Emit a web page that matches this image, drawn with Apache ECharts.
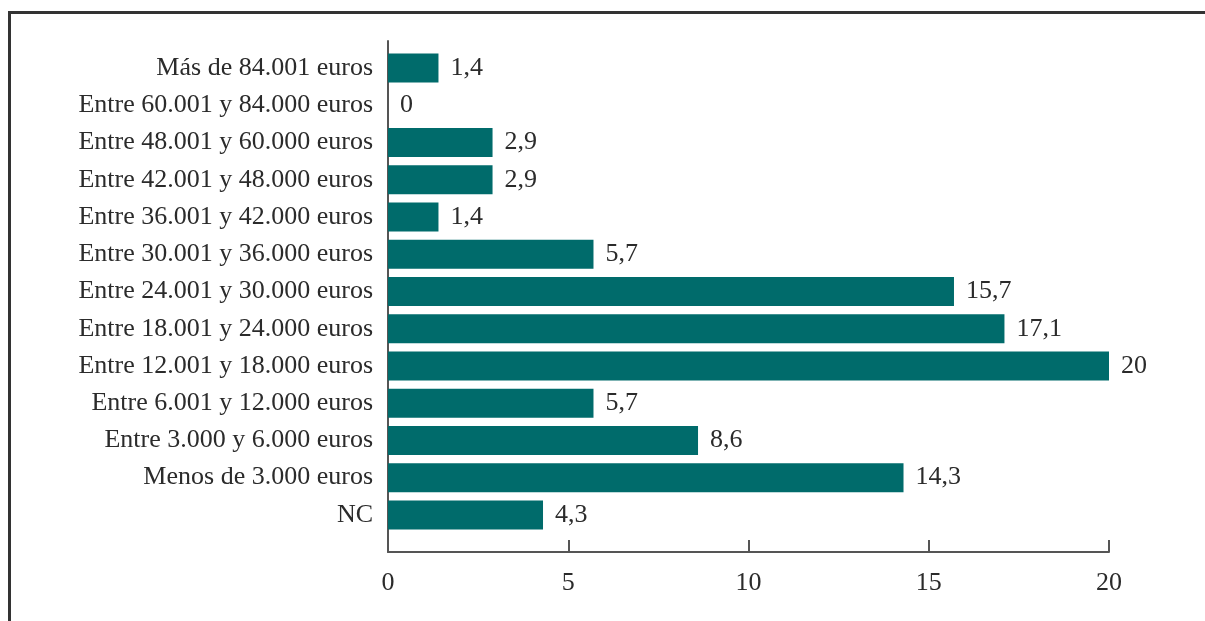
<!DOCTYPE html>
<html>
<head>
<meta charset="utf-8">
<script src="https://cdn.jsdelivr.net/npm/echarts@6/dist/echarts.min.js"></script>
<style>
html, body { margin: 0; padding: 0; background: #fff; }
#chart { width: 1205px; height: 621px; }
</style>
</head>
<body>
<div id="chart"></div>
<script>
// categorias, de arriba a abajo
var categories = [
  'Más de 84.001 euros',
  'Entre 60.001 y 84.000 euros',
  'Entre 48.001 y 60.000 euros',
  'Entre 42.001 y 48.000 euros',
  'Entre 36.001 y 42.000 euros',
  'Entre 30.001 y 36.000 euros',
  'Entre 24.001 y 30.000 euros',
  'Entre 18.001 y 24.000 euros',
  'Entre 12.001 y 18.000 euros',
  'Entre 6.001 y 12.000 euros',
  'Entre 3.000 y 6.000 euros',
  'Menos de 3.000 euros',
  'NC'
];
var values = [1.4, 0, 2.9, 2.9, 1.4, 5.7, 15.7, 17.1, 20, 5.7, 8.6, 14.3, 4.3];
var xTicks = [0, 5, 10, 15, 20];

var font = '"Liberation Serif", "DejaVu Serif", serif';
var textColor = '#2b2b2b';
var axisColor = '#555';

var chart = echarts.init(document.getElementById('chart'));
chart.setOption({
  animation: false,
  backgroundColor: '#fff',
  textStyle: { fontFamily: font },
  graphic: [{
    type: 'rect',
    shape: { x: 9.5, y: 12.5, width: 1300, height: 700 },
    style: { fill: 'none', stroke: '#333', lineWidth: 3 },
    silent: true
  }],
  grid: [
    // barras
    { left: 388, right: 96, top: 49.5, bottom: 87.5 },
    // ejes
    { left: 388, right: 96, top: 41, bottom: 69 }
  ],
  xAxis: [
    { gridIndex: 0, type: 'value', min: 0, max: 20, interval: 5, show: false },
    {
      gridIndex: 1, type: 'value', min: xTicks[0], max: xTicks[xTicks.length - 1], interval: 5,
      axisLine: { show: true, lineStyle: { color: axisColor, width: 2 } },
      axisTick: { show: true, inside: true, length: 12, lineStyle: { color: axisColor, width: 2 } },
      axisLabel: { color: textColor, fontSize: 26, fontFamily: font, margin: 18 },
      splitLine: { show: false }
    }
  ],
  yAxis: [
    {
      gridIndex: 0, type: 'category', data: categories, inverse: true,
      axisLine: { show: false },
      axisTick: { show: false },
      axisLabel: { color: textColor, fontSize: 26, fontFamily: font, margin: 15 }
    },
    {
      gridIndex: 1, type: 'value', min: 0, max: 1,
      axisLine: { show: true, lineStyle: { color: axisColor, width: 2 } },
      axisTick: { show: false },
      axisLabel: { show: false },
      splitLine: { show: false }
    }
  ],
  series: [{
    type: 'bar',
    xAxisIndex: 0,
    yAxisIndex: 0,
    data: values,
    barWidth: 29,
    itemStyle: { color: '#006b6b' },
    label: {
      show: true,
      position: 'right',
      distance: 12,
      color: textColor,
      fontSize: 26,
      fontFamily: font,
      formatter: function (p) { return String(p.value).replace('.', ','); }
    }
  }]
});
</script>
</body>
</html>
